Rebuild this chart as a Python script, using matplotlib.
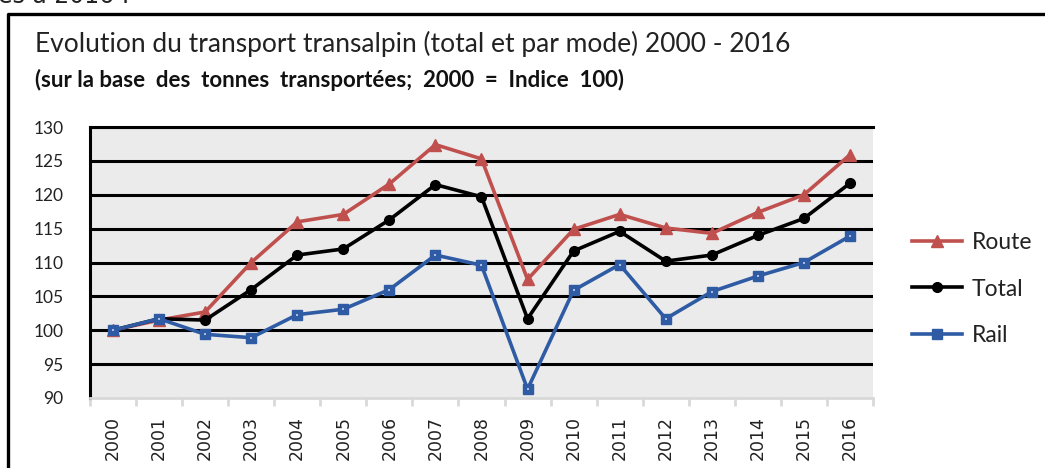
import matplotlib
matplotlib.use("Agg")
import matplotlib.pyplot as plt
from matplotlib.lines import Line2D
from matplotlib.ticker import FixedLocator

# ------------------------------------------------------------------
# Data (index, 2000 = 100)
# ------------------------------------------------------------------
years = [str(y) for y in range(2000, 2017)]
route = [100.0, 101.5, 102.7, 110.0, 116.0, 117.1, 121.6, 127.4, 125.3,
         107.5, 114.9, 117.1, 115.1, 114.3, 117.4, 120.0, 125.9]
total = [100.0, 101.7, 101.5, 106.0, 111.1, 112.0, 116.3, 121.5, 119.7,
         101.7, 111.7, 114.6, 110.2, 111.1, 114.0, 116.5, 121.7]
rail = [100.0, 101.7, 99.4, 98.9, 102.3, 103.1, 106.0, 111.1, 109.6,
        91.3, 105.9, 109.7, 101.7, 105.7, 108.0, 110.0, 113.9]
y_ticks = [90, 95, 100, 105, 110, 115, 120, 125, 130]

title = "Evolution du transport transalpin (total et par mode) 2000 - 2016"
subtitle = "(sur la base  des  tonnes  transportées;  2000  =  Indice  100)"

RED = "#c0504d"
BLUE = "#2e5ba4"
FONT = "Lato"

fig = plt.figure(figsize=(10.45, 4.68), dpi=100)
ax = fig.add_axes([0.0861, 0.1496, 0.7493, 0.579])
ax.set_facecolor("#ebebeb")

x = list(range(len(years)))
ax.plot(x, route, color=RED, lw=2.6, marker="^", ms=8, label="Route", zorder=4)
ax.plot(x, total, color="black", lw=2.6, marker="o", ms=7, label="Total", zorder=5)
ax.plot(x, rail, color=BLUE, lw=2.6, marker="s", ms=7, mec=BLUE, label="Rail", zorder=6)
ax.plot(x, rail, ls="none", marker="s", ms=1.6, color="#a8bde0", mew=0, zorder=7)

ax.set_xlim(-0.5, len(years) - 0.5)
ax.set_ylim(90, 130)
ax.set_yticks(y_ticks)
ax.set_yticklabels([str(v) for v in y_ticks], fontfamily=FONT, fontsize=12.5,
                   color="#222222")
ax.tick_params(axis="y", length=0, pad=19)

ax.set_xticks(x)
ax.set_xticklabels(years, rotation=90, fontfamily="DejaVu Sans", fontsize=12.5,
                   color="#222222")
ax.xaxis.set_minor_locator(FixedLocator([i - 0.5 for i in range(len(years) + 1)]))
ax.tick_params(axis="x", which="major", length=0, pad=13)
ax.tick_params(axis="x", which="minor", length=6, width=2, color="#d9d9d9")

ax.yaxis.grid(True, color="black", lw=2.2, zorder=1)
ax.get_ygridlines()[0].set_visible(False)
ax.set_axisbelow(True)

for side in ("top", "left"):
    ax.spines[side].set_color("black")
    ax.spines[side].set_linewidth(2.2)
ax.spines["right"].set_visible(False)
ax.spines["bottom"].set_color("#d9d9d9")
ax.spines["bottom"].set_linewidth(2)

# titles
fig.text(35 / 1045, 1 - 44 / 468, title, fontfamily=FONT, fontsize=19,
         va="center", ha="left", color="#222222")
fig.text(35 / 1045, 1 - 80 / 468, subtitle, fontfamily=FONT, fontsize=16,
         fontweight="bold", va="center", ha="left", color="#111111")

# cropped text above the frame (the reference is cut at its top edge)
fig.text(-0.002, 1 + 4 / 468, "es à 2016 :", fontfamily="DejaVu Sans", fontsize=17,
         va="center", ha="left", color="#222222")

# outer frame (left and top edges)
fig.add_artist(Line2D([7.5 / 1045, 7.5 / 1045, 1.0],
                      [0.0, 1 - 13.5 / 468, 1 - 13.5 / 468],
                      transform=fig.transFigure, color="black", lw=2.4))

leg = fig.legend(loc="center left", bbox_to_anchor=(912 / 1045, 1 - 289 / 468),
                 frameon=False, borderpad=0, borderaxespad=0,
                 prop={"family": FONT, "size": 16.5}, handlelength=2.2,
                 handletextpad=0.4, labelspacing=1.12)
for t in leg.get_texts():
    t.set_color("#222222")

fig.savefig("out.png", dpi=100)
